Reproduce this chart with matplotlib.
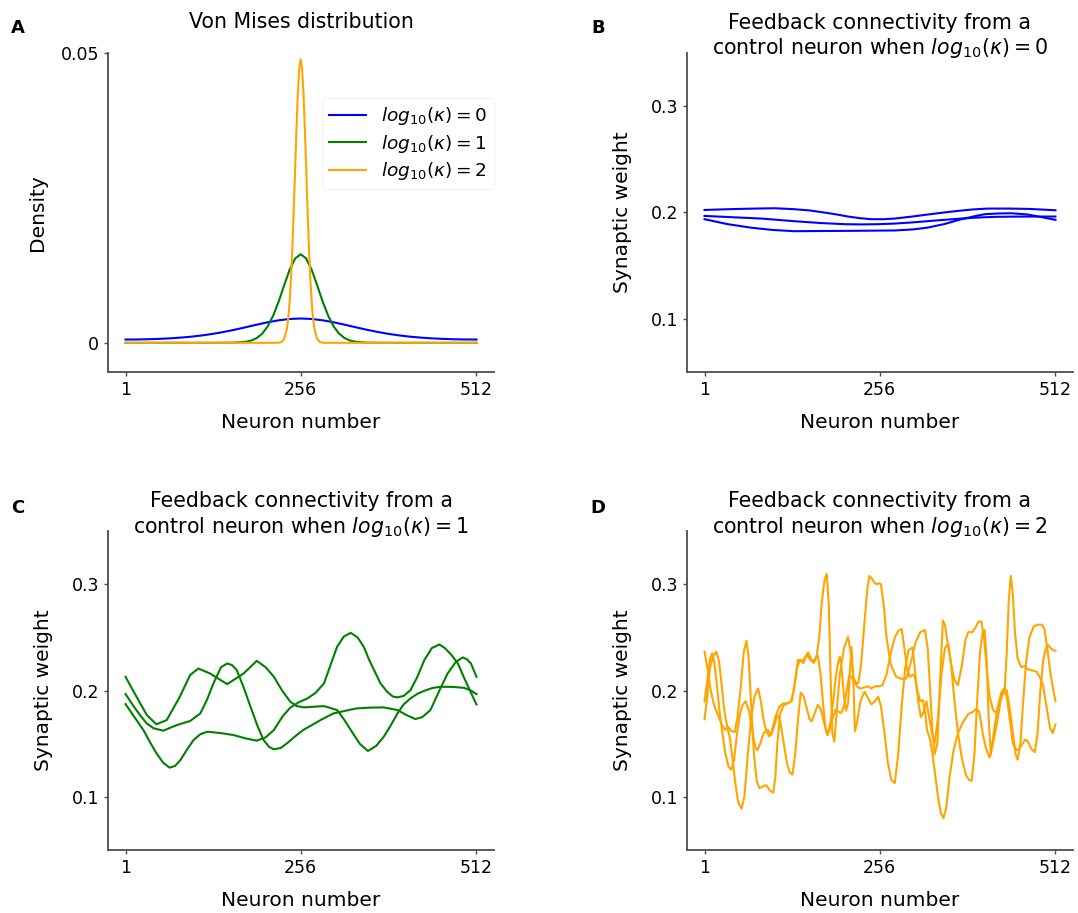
import matplotlib
matplotlib.use('Agg')
import matplotlib.pyplot as plt

# ---- panel A: von Mises density per neuron ----
vm0_n = [1, 16, 32, 48, 64, 80, 96, 112, 128, 144, 160, 176, 192, 208, 224, 240, 256,
         272, 288, 304, 320, 336, 352, 368, 384, 400, 416, 432, 448, 464, 480, 496, 512]
vm0_d = [0.000568, 0.000579, 0.000612, 0.000672, 0.000761, 0.000885, 0.001052, 0.001269,
         0.001543, 0.001875, 0.002262, 0.002689, 0.003129, 0.003543, 0.003886, 0.004114,
         0.004194, 0.004114, 0.003886, 0.003543, 0.003129, 0.002689, 0.002262, 0.001875,
         0.001543, 0.001269, 0.001052, 0.000885, 0.000761, 0.000672, 0.000612, 0.000579,
         0.000568]

vm1_n = [1, 128, 160, 176, 184, 192, 200, 208, 216, 224, 232, 240, 248, 256,
         264, 272, 280, 288, 296, 304, 312, 320, 328, 336, 352, 384, 512]
vm1_d = [0.0, 0.000001, 0.000032, 0.000179, 0.000395, 0.000817, 0.001579, 0.002833,
         0.004691, 0.007138, 0.009934, 0.01261, 0.01456, 0.01528,
         0.01456, 0.01261, 0.009934, 0.007138, 0.004691, 0.002833, 0.001579, 0.000817,
         0.000395, 0.000179, 0.000032, 0.000001, 0.0]

vm2_n = [1, 216, 224, 228, 232, 236, 238, 240, 242, 244, 246, 248, 250, 252, 254, 256,
         258, 260, 262, 264, 266, 268, 270, 272, 274, 276, 280, 284, 288, 296, 512]
vm2_d = [0.0, 0.0, 0.000024, 0.000141, 0.00066, 0.002442, 0.004307, 0.00716, 0.01122,
         0.01657, 0.02305, 0.03021, 0.03729, 0.04335, 0.04745, 0.0489,
         0.04745, 0.04335, 0.03729, 0.03021, 0.02305, 0.01657, 0.01122, 0.00716,
         0.004307, 0.002442, 0.00066, 0.000141, 0.000024, 0.0, 0.0]

# ---- panel B: log10(kappa) = 0 ----
b1_n = [1, 35, 66, 103, 132, 155, 176, 194, 210, 228, 244, 262, 278, 302, 326, 348, 370, 392, 414, 444, 472, 492, 512]
b1_w = [0.2023, 0.2030, 0.2035, 0.2039, 0.2030, 0.2018, 0.1998, 0.1980, 0.1961, 0.1945, 0.1936, 0.1936,
        0.1942, 0.1960, 0.1980, 0.1998, 0.2014, 0.2028, 0.2036, 0.2036, 0.2033, 0.2027, 0.2020]
b2_n = [1, 40, 84, 132, 170, 205, 230, 254, 278, 302, 340, 375, 400, 424, 448, 472, 512]
b2_w = [0.1967, 0.1955, 0.1942, 0.1917, 0.1900, 0.1889, 0.1887, 0.1889, 0.1895, 0.1905, 0.1925,
        0.1942, 0.1952, 0.1958, 0.1960, 0.1961, 0.1961]
b3_n = [1, 35, 70, 100, 132, 170, 205, 240, 278, 305, 326, 350, 375, 395, 409, 430, 448, 472, 492, 512]
b3_w = [0.1936, 0.1889, 0.1855, 0.1835, 0.1823, 0.1825, 0.1826, 0.1828, 0.1830, 0.1840, 0.1857,
        0.1890, 0.1936, 0.1965, 0.1983, 0.1990, 0.1992, 0.1980, 0.1955, 0.1930]

# ---- panel C: log10(kappa) = 1 ----
c1_n = [1, 17, 32, 46, 61, 80, 95, 107, 124, 149, 173, 192, 205, 217, 229, 241, 250, 261, 275,
        290, 300, 309, 319, 329, 342, 354, 366, 377, 387, 397, 406, 416, 426, 436, 448, 460,
        477, 494, 504, 512]
c1_w = [0.213, 0.1942, 0.177, 0.1683, 0.1723, 0.1942, 0.2146, 0.2208, 0.2161, 0.2061, 0.2161,
        0.228, 0.222, 0.213, 0.200, 0.1895, 0.1855, 0.1842, 0.1848, 0.1854, 0.1835, 0.1817,
        0.173, 0.1629, 0.150, 0.1432, 0.148, 0.1566, 0.167, 0.1786, 0.187, 0.1927, 0.197,
        0.1998, 0.2025, 0.2036, 0.2035, 0.2026, 0.200, 0.1967]
c2_n = [1, 12, 22, 32, 42, 56, 66, 76, 95, 110, 120, 129, 140, 149, 156, 163, 173, 183, 193,
        202, 210, 217, 227, 236, 248, 260, 270, 287, 304, 321, 338, 358, 377, 397, 410, 423,
        433, 445, 458, 470, 482, 492, 498, 504, 512]
c2_w = [0.1967, 0.186, 0.177, 0.169, 0.1645, 0.1623, 0.165, 0.1676, 0.1714, 0.1786, 0.192,
        0.2068, 0.222, 0.2255, 0.224, 0.2192, 0.203, 0.1848, 0.167, 0.1535, 0.147, 0.1448,
        0.146, 0.1504, 0.157, 0.163, 0.1667, 0.173, 0.1786, 0.181, 0.1833, 0.184, 0.1842,
        0.1817, 0.177, 0.1732, 0.175, 0.1817, 0.200, 0.2161, 0.227, 0.2312, 0.2295, 0.2255,
        0.213]
c3_n = [1, 14, 27, 37, 46, 56, 65, 73, 81, 90, 100, 110, 120, 140, 158, 176, 192, 205, 217,
        230, 241, 253, 266, 278, 290, 300, 309, 319, 329, 339, 348, 355, 363, 372, 382, 390,
        397, 406, 416, 426, 436, 447, 458, 466, 475, 485, 494, 504, 512]
c3_w = [0.1873, 0.175, 0.1629, 0.151, 0.141, 0.132, 0.1275, 0.129, 0.1347, 0.144, 0.1535,
        0.159, 0.1613, 0.160, 0.1582, 0.155, 0.1529, 0.156, 0.1629, 0.176, 0.184, 0.189,
        0.1927, 0.198, 0.2068, 0.225, 0.2411, 0.251, 0.2543, 0.250, 0.2411, 0.230, 0.2192,
        0.207, 0.1989, 0.1945, 0.1936, 0.195, 0.2005, 0.213, 0.2286, 0.240, 0.2434, 0.240,
        0.234, 0.2255, 0.212, 0.198, 0.187]

# ---- panel D: log10(kappa) = 2 ----
d1_n = [1, 5, 10, 15, 20, 26, 31, 35, 40, 45, 49, 54, 58, 62, 65, 69, 73, 77, 81, 86, 91, 96,
        101, 104, 107, 111, 116, 122, 128, 133, 137, 141, 145, 150, 155, 159, 164, 168, 172,
        176, 179, 182, 184, 187, 190, 194, 198, 204, 210, 214, 218, 222, 225, 229, 234, 238,
        241, 245, 249, 252, 255, 258, 262, 266, 272, 280, 288, 295, 302, 308, 315, 322, 326,
        330, 333, 336, 340, 344, 348, 351, 355, 360, 365, 370, 376, 381, 385, 391, 396, 400,
        404, 408, 412, 416, 421, 426, 431, 435, 438, 441, 444, 447, 450, 453, 457, 462, 467,
        472, 478, 484, 489, 494, 499, 504, 508, 512]
d1_w = [0.2366, 0.222, 0.200, 0.186, 0.178, 0.168, 0.163, 0.166, 0.162, 0.161, 0.175, 0.205,
        0.236, 0.247, 0.233, 0.185, 0.140, 0.115, 0.108, 0.110, 0.111, 0.106, 0.104, 0.118,
        0.150, 0.178, 0.186, 0.188, 0.190, 0.210, 0.229, 0.228, 0.226, 0.234, 0.229, 0.227,
        0.232, 0.250, 0.285, 0.305, 0.310, 0.280, 0.225, 0.160, 0.152, 0.185, 0.215, 0.240,
        0.2506, 0.235, 0.212, 0.207, 0.207, 0.225, 0.265, 0.295, 0.308, 0.305, 0.301, 0.300,
        0.301, 0.300, 0.280, 0.250, 0.225, 0.213, 0.211, 0.2116, 0.228, 0.245, 0.255, 0.257,
        0.240, 0.195, 0.160, 0.140, 0.150, 0.210, 0.266, 0.262, 0.245, 0.225, 0.210, 0.205,
        0.225, 0.248, 0.255, 0.255, 0.260, 0.265, 0.265, 0.250, 0.220, 0.195, 0.182, 0.179,
        0.190, 0.198, 0.200, 0.235, 0.285, 0.308, 0.290, 0.255, 0.230, 0.222, 0.223, 0.220,
        0.219, 0.218, 0.213, 0.205, 0.185, 0.165, 0.160, 0.168]
d2_n = [1, 5, 9, 12, 15, 19, 23, 27, 31, 36, 40, 44, 48, 52, 56, 61, 66, 71, 75, 78, 82, 87,
        93, 98, 103, 107, 111, 116, 121, 125, 129, 133, 137, 141, 145, 150, 154, 157, 161,
        166, 170, 175, 180, 185, 190, 194, 198, 201, 204, 207, 210, 213, 215, 218, 220, 223,
        228, 234, 239, 244, 249, 254, 258, 263, 268, 273, 278, 283, 288, 293, 298, 304, 308,
        312, 316, 320, 324, 328, 332, 336, 341, 346, 351, 356, 360, 365, 370, 376, 382, 386,
        390, 394, 398, 402, 406, 409, 412, 415, 418, 422, 428, 433, 437, 441, 445, 450, 454,
        457, 461, 465, 469, 474, 480, 486, 492, 496, 500, 505, 509, 512]
d2_w = [0.1897, 0.210, 0.230, 0.235, 0.228, 0.205, 0.180, 0.160, 0.142, 0.128, 0.1256,
        0.135, 0.158, 0.176, 0.186, 0.190, 0.180, 0.160, 0.147, 0.144, 0.150, 0.160, 0.163,
        0.158, 0.168, 0.177, 0.172, 0.152, 0.132, 0.123, 0.121, 0.140, 0.172, 0.198, 0.195,
        0.183, 0.173, 0.171, 0.178, 0.1866, 0.183, 0.170, 0.158, 0.172, 0.200, 0.222, 0.232,
        0.218, 0.195, 0.181, 0.188, 0.222, 0.241, 0.205, 0.1616, 0.170, 0.190, 0.199, 0.193,
        0.187, 0.190, 0.194, 0.185, 0.160, 0.132, 0.116, 0.113, 0.140, 0.185, 0.220, 0.238,
        0.2406, 0.215, 0.190, 0.175, 0.180, 0.190, 0.175, 0.160, 0.150, 0.175, 0.215, 0.240,
        0.244, 0.225, 0.190, 0.160, 0.135, 0.120, 0.116, 0.115, 0.140, 0.190, 0.235, 0.255,
        0.257, 0.225, 0.170, 0.140, 0.160, 0.185, 0.198, 0.202, 0.200, 0.185, 0.160, 0.140,
        0.135, 0.150, 0.190, 0.225, 0.250, 0.260, 0.262, 0.262, 0.258, 0.240, 0.215, 0.200,
        0.190]
d3_n = [1, 5, 9, 14, 18, 22, 26, 30, 34, 38, 42, 46, 50, 55, 59, 64, 69, 74, 79, 83, 87, 91,
        95, 99, 104, 110, 116, 122, 127, 131, 136, 140, 144, 148, 152, 156, 160, 164, 166,
        170, 174, 177, 180, 184, 188, 192, 196, 200, 204, 208, 212, 216, 220, 224, 229, 234,
        239, 244, 249, 254, 260, 266, 272, 278, 283, 288, 292, 296, 300, 304, 307, 311, 315,
        319, 322, 325, 329, 333, 337, 341, 345, 349, 353, 358, 364, 370, 377, 385, 392, 397,
        401, 406, 411, 416, 421, 427, 432, 437, 441, 446, 450, 455, 459, 464, 468, 472, 477,
        482, 486, 490, 494, 498, 501, 505, 509, 512]
d3_w = [0.173, 0.195, 0.222, 0.233, 0.2366, 0.228, 0.205, 0.180, 0.166, 0.155, 0.135, 0.112,
        0.095, 0.0888, 0.100, 0.140, 0.175, 0.195, 0.202, 0.190, 0.172, 0.162, 0.157, 0.162,
        0.175, 0.185, 0.188, 0.188, 0.190, 0.200, 0.222, 0.229, 0.228, 0.232, 0.236, 0.230,
        0.226, 0.231, 0.233, 0.215, 0.185, 0.165, 0.158, 0.165, 0.175, 0.182, 0.180, 0.179,
        0.185, 0.200, 0.215, 0.212, 0.207, 0.203, 0.202, 0.203, 0.204, 0.202, 0.204, 0.204,
        0.205, 0.215, 0.235, 0.250, 0.256, 0.258, 0.240, 0.220, 0.213, 0.215, 0.213, 0.200,
        0.190, 0.191, 0.180, 0.163, 0.155, 0.140, 0.120, 0.100, 0.085, 0.080, 0.090, 0.120,
        0.145, 0.160, 0.170, 0.178, 0.180, 0.183, 0.180, 0.160, 0.145, 0.137, 0.150, 0.170,
        0.190, 0.200, 0.195, 0.170, 0.150, 0.144, 0.145, 0.150, 0.154, 0.152, 0.145, 0.142,
        0.160, 0.200, 0.228, 0.240, 0.243, 0.240, 0.238, 0.2375]

neuron_ticks = [1, 256, 512]
kappa_labels = [r'$log_{10}(\kappa) = 0$', r'$log_{10}(\kappa) = 1$', r'$log_{10}(\kappa) = 2$']
colors = ['blue', 'green', 'orange']

LABEL_FS = 14.5
TITLE_FS = 14.8
TICK_FS = 12.5
LW = 1.5

fig, axs = plt.subplots(2, 2, figsize=(10.78, 9.13), dpi=100)
fig.subplots_adjust(left=108 / 1078, right=1073 / 1078, bottom=1 - 850 / 913,
                    top=1 - 53 / 913, wspace=0.5, hspace=0.5)


def style(ax):
    for s in ('top', 'right'):
        ax.spines[s].set_visible(False)
    for s in ('left', 'bottom'):
        ax.spines[s].set_color('0.3')
        ax.spines[s].set_linewidth(1.3)
    ax.tick_params(labelsize=TICK_FS, length=3, width=1, colors='0.3', labelcolor='black')
    ax.set_xticks(neuron_ticks)
    ax.set_xticklabels([str(t) for t in neuron_ticks])
    ax.set_xlabel('Neuron number', fontsize=LABEL_FS, labelpad=10)


# A
ax = axs[0, 0]
ax.plot(vm0_n, vm0_d, color=colors[0], lw=LW, label=kappa_labels[0])
ax.plot(vm1_n, vm1_d, color=colors[1], lw=LW, label=kappa_labels[1])
ax.plot(vm2_n, vm2_d, color=colors[2], lw=LW, label=kappa_labels[2])
style(ax)
ax.set_ylim(-0.005, 0.05)
ax.set_yticks([0, 0.05])
ax.set_yticklabels(['0', '0.05'])
ax.set_ylabel('Density', fontsize=LABEL_FS, labelpad=10)
ax.set_title('Von Mises distribution', fontsize=TITLE_FS, y=1.0, pad=18)
leg = ax.legend(loc='upper right', bbox_to_anchor=(1.0, 0.86), borderaxespad=0,
                fontsize=13.3, labelspacing=0.3, frameon=True)
leg.get_frame().set_edgecolor('0.95')

# B, C, D
panels = [
    (axs[0, 1], [(b1_n, b1_w), (b2_n, b2_w), (b3_n, b3_w)], colors[0], '0'),
    (axs[1, 0], [(c1_n, c1_w), (c2_n, c2_w), (c3_n, c3_w)], colors[1], '1'),
    (axs[1, 1], [(d1_n, d1_w), (d2_n, d2_w), (d3_n, d3_w)], colors[2], '2'),
]
for ax, curves, col, k in panels:
    for n, w in curves:
        ax.plot(n, w, color=col, lw=LW)
    style(ax)
    ax.set_ylim(0.05, 0.35)
    ax.set_yticks([0.1, 0.2, 0.3])
    ax.set_yticklabels(['0.1', '0.2', '0.3'])
    ax.set_ylabel('Synaptic weight', fontsize=LABEL_FS, labelpad=13)
    ax.set_title('Feedback connectivity from a\ncontrol neuron when $log_{10}(\\kappa) = %s$' % k,
                 fontsize=TITLE_FS, y=1.0, pad=-1)

for letter, x, y in [('A', 18, 28), ('B', 598, 28), ('C', 18, 508), ('D', 598, 508)]:
    fig.text(x / 1078, 1 - y / 913, letter, fontsize=13, fontweight='bold',
             ha='center', va='center')

fig.savefig('out.png', dpi=100)
